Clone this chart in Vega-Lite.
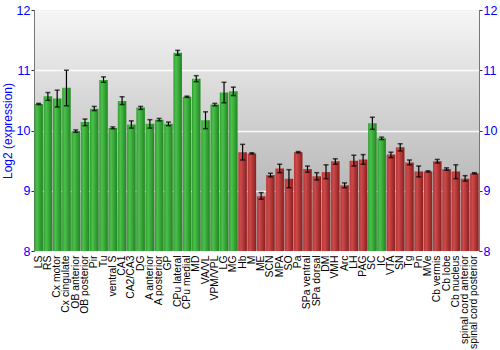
{
  "$schema": "https://vega.github.io/schema/vega-lite/v6.json",
  "autosize": "none",
  "width": 445,
  "height": 241,
  "padding": {"left": 34, "top": 10, "right": 21, "bottom": 99},
  "background": "white",
  "config": {
    "font": "Liberation Sans",
    "view": {
      "stroke": "#777777",
      "strokeWidth": 1,
      "fill": {"gradient": "linear", "x1": 0, "y1": 0, "x2": 0, "y2": 1, "stops": [{"offset": 0, "color": "#f6f6f6"}, {"offset": 0.5, "color": "#cccccc"}, {"offset": 1, "color": "#a4a4a4"}]}
    }
  },
  "data": {
    "values": [
      {"region": "LS", "value": 10.44, "lo": 10.43, "hi": 10.45, "group": "g"},
      {"region": "RS", "value": 10.57, "lo": 10.5, "hi": 10.63, "group": "g"},
      {"region": "Cx motor", "value": 10.53, "lo": 10.39, "hi": 10.67, "group": "g"},
      {"region": "Cx cingulate", "value": 10.71, "lo": 10.41, "hi": 11.0, "group": "g"},
      {"region": "OB anterior", "value": 9.99, "lo": 9.97, "hi": 10.01, "group": "g"},
      {"region": "OB posterior", "value": 10.14, "lo": 10.08, "hi": 10.19, "group": "g"},
      {"region": "Pir", "value": 10.36, "lo": 10.33, "hi": 10.4, "group": "g"},
      {"region": "Tu", "value": 10.84, "lo": 10.8, "hi": 10.89, "group": "g"},
      {"region": "ventral S", "value": 10.04, "lo": 10.03, "hi": 10.06, "group": "g"},
      {"region": "CA1", "value": 10.49, "lo": 10.43, "hi": 10.56, "group": "g"},
      {"region": "CA2/CA3", "value": 10.1, "lo": 10.04, "hi": 10.16, "group": "g"},
      {"region": "DG", "value": 10.38, "lo": 10.35, "hi": 10.4, "group": "g"},
      {"region": "A anterior", "value": 10.11, "lo": 10.04, "hi": 10.18, "group": "g"},
      {"region": "A posterior", "value": 10.18, "lo": 10.16, "hi": 10.2, "group": "g"},
      {"region": "GP", "value": 10.11, "lo": 10.08, "hi": 10.14, "group": "g"},
      {"region": "CPu lateral", "value": 11.29, "lo": 11.25, "hi": 11.33, "group": "g"},
      {"region": "CPu medial", "value": 10.56, "lo": 10.55, "hi": 10.57, "group": "g"},
      {"region": "MD", "value": 10.86, "lo": 10.81, "hi": 10.91, "group": "g"},
      {"region": "VA/VL", "value": 10.17, "lo": 10.03, "hi": 10.31, "group": "g"},
      {"region": "VPM/VPL", "value": 10.43, "lo": 10.41, "hi": 10.45, "group": "g"},
      {"region": "LG", "value": 10.63, "lo": 10.46, "hi": 10.8, "group": "g"},
      {"region": "MG", "value": 10.65, "lo": 10.58, "hi": 10.72, "group": "g"},
      {"region": "Hb", "value": 9.64, "lo": 9.51, "hi": 9.77, "group": "r"},
      {"region": "M", "value": 9.62, "lo": 9.61, "hi": 9.63, "group": "r"},
      {"region": "ME", "value": 8.91, "lo": 8.86, "hi": 8.97, "group": "r"},
      {"region": "SCN", "value": 9.26, "lo": 9.23, "hi": 9.29, "group": "r"},
      {"region": "MPA", "value": 9.37, "lo": 9.3, "hi": 9.44, "group": "r"},
      {"region": "SO", "value": 9.2, "lo": 9.05, "hi": 9.35, "group": "r"},
      {"region": "Pa", "value": 9.64, "lo": 9.63, "hi": 9.65, "group": "r"},
      {"region": "SPa ventral", "value": 9.36, "lo": 9.31, "hi": 9.41, "group": "r"},
      {"region": "SPa dorsal", "value": 9.24, "lo": 9.18, "hi": 9.3, "group": "r"},
      {"region": "DM", "value": 9.31, "lo": 9.2, "hi": 9.43, "group": "r"},
      {"region": "VMH", "value": 9.49, "lo": 9.44, "hi": 9.53, "group": "r"},
      {"region": "Arc", "value": 9.09, "lo": 9.05, "hi": 9.13, "group": "r"},
      {"region": "LH", "value": 9.5, "lo": 9.41, "hi": 9.59, "group": "r"},
      {"region": "PAG", "value": 9.52, "lo": 9.44, "hi": 9.6, "group": "r"},
      {"region": "SC", "value": 10.12, "lo": 10.02, "hi": 10.22, "group": "g"},
      {"region": "IC", "value": 9.87, "lo": 9.85, "hi": 9.89, "group": "g"},
      {"region": "VTA", "value": 9.6, "lo": 9.55, "hi": 9.64, "group": "r"},
      {"region": "SN", "value": 9.72, "lo": 9.66, "hi": 9.78, "group": "r"},
      {"region": "Tg", "value": 9.47, "lo": 9.43, "hi": 9.51, "group": "r"},
      {"region": "Pn", "value": 9.32, "lo": 9.23, "hi": 9.41, "group": "r"},
      {"region": "MVe", "value": 9.32, "lo": 9.31, "hi": 9.33, "group": "r"},
      {"region": "Cb vermis", "value": 9.49, "lo": 9.46, "hi": 9.52, "group": "r"},
      {"region": "Cb lobe", "value": 9.36, "lo": 9.34, "hi": 9.38, "group": "r"},
      {"region": "Cb nucleus", "value": 9.32, "lo": 9.2, "hi": 9.43, "group": "r"},
      {"region": "spinal cord anterior", "value": 9.2, "lo": 9.16, "hi": 9.25, "group": "r"},
      {"region": "spinal cord posterior", "value": 9.29, "lo": 9.28, "hi": 9.3, "group": "r"}
    ]
  },
  "encoding": {
    "x": {
      "field": "region", "type": "nominal", "sort": null,
      "scale": {
        "domain": ["LS", "RS", "Cx motor", "Cx cingulate", "OB anterior", "OB posterior", "Pir", "Tu", "ventral S", "CA1", "CA2/CA3", "DG", "A anterior", "A posterior", "GP", "CPu lateral", "CPu medial", "MD", "VA/VL", "VPM/VPL", "LG", "MG", "Hb", "M", "ME", "SCN", "MPA", "SO", "Pa", "SPa ventral", "SPa dorsal", "DM", "VMH", "Arc", "LH", "PAG", "SC", "IC", "VTA", "SN", "Tg", "Pn", "MVe", "Cb vermis", "Cb lobe", "Cb nucleus", "spinal cord anterior", "spinal cord posterior"],
        "paddingInner": 0.08, "paddingOuter": 0.04
      },
      "axis": {"title": null, "labelAngle": -90, "labelFontSize": 10.4, "labelColor": "#000000", "ticks": false, "domain": false, "labelPadding": 4, "labelFont": "Liberation Sans"}
    }
  },
  "layer": [
    {
      "transform": [{"filter": "datum.group == 'g'"}],
      "mark": {"type": "bar", "color": {"gradient": "linear", "x1": 0, "y1": 0, "x2": 1, "y2": 0, "stops": [{"offset": 0, "color": "#2f9e2f"}, {"offset": 0.3, "color": "#4cc04c"}, {"offset": 1, "color": "#1f861f"}]}},
      "encoding": {
        "y": {
          "field": "value", "type": "quantitative",
          "scale": {"domain": [8, 12], "nice": false, "zero": false},
          "axis": {"title": "Log2 (expression)", "titleColor": "#0000ff", "titleFontSize": 12, "titleFontWeight": "normal", "titleFont": "Liberation Sans", "titlePadding": 2, "values": [8, 9, 10, 11, 12], "labelColor": "#0000ff", "labelFontSize": 12.5, "labelFont": "Liberation Sans", "labelPadding": 1, "gridColor": "#ffffff", "gridWidth": 1.5, "gridOpacity": 0.9, "domainColor": "#777777", "tickColor": "#333333", "tickSize": 3}
        },
        "y2": {"datum": 8}
      }
    },
    {
      "transform": [{"filter": "datum.group == 'r'"}],
      "mark": {"type": "bar", "color": {"gradient": "linear", "x1": 0, "y1": 0, "x2": 1, "y2": 0, "stops": [{"offset": 0, "color": "#b83434"}, {"offset": 0.3, "color": "#cc4a4a"}, {"offset": 1, "color": "#8a1e1e"}]}},
      "encoding": {
        "y": {"field": "value", "type": "quantitative", "axis": {"orient": "right", "title": null, "values": [8, 9, 10, 11, 12], "labelColor": "#0000ff", "labelFontSize": 12.5, "labelFont": "Liberation Sans", "labelPadding": 1, "grid": false, "domainColor": "#777777", "tickColor": "#333333", "tickSize": 3}},
        "y2": {"datum": 8}
      }
    },
    {
      "mark": {"type": "rule", "color": "#000000", "strokeWidth": 1.2},
      "encoding": {
        "y": {"field": "lo", "type": "quantitative", "axis": null},
        "y2": {"field": "hi"}
      }
    },
    {
      "mark": {"type": "tick", "color": "#000000", "size": 5, "thickness": 1.5},
      "encoding": {"y": {"field": "lo", "type": "quantitative", "axis": null}}
    },
    {
      "mark": {"type": "tick", "color": "#000000", "size": 5, "thickness": 1.5},
      "encoding": {"y": {"field": "hi", "type": "quantitative", "axis": null}}
    }
  ],
  "resolve": {"axis": {"y": "independent"}}
}
